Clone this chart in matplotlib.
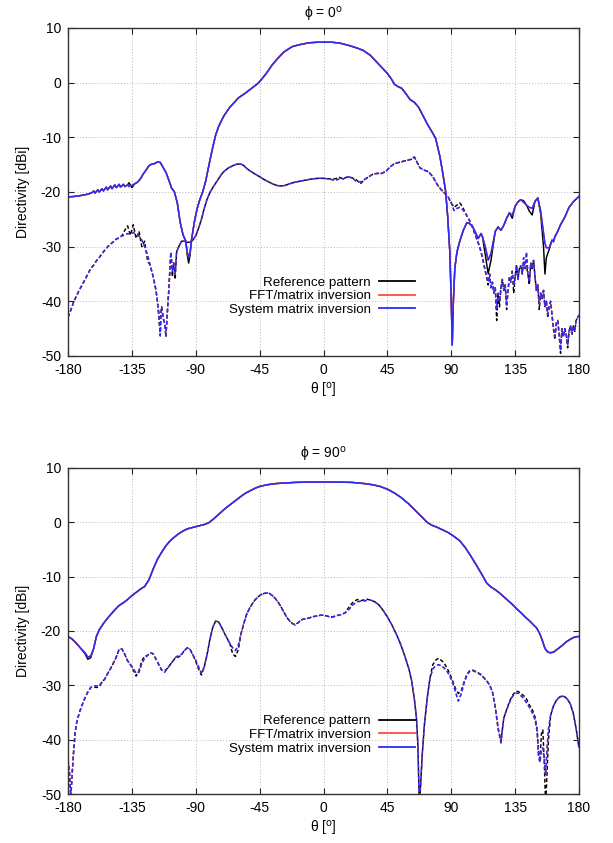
import numpy as np
import matplotlib
matplotlib.use('Agg')
import matplotlib.pyplot as plt
from matplotlib.lines import Line2D

plt.rcParams['font.family'] = ['Liberation Sans', 'DejaVu Sans']
plt.rcParams['axes.unicode_minus'] = False

# ---------------------------------------------------------------
# data (theta in deg, directivity in dBi)
# REF = reference pattern (black), REC = FFT / system matrix
# reconstructions (red / blue, overlap within a pixel)
# ---------------------------------------------------------------

# phi = 0 deg, co-polar (solid)
TOP_CO_THETA = [-180, -175, -170, -166, -163, -162, -161, -159, -158, -156, -155, -153, -152, -150,
                -149, -147, -146, -144, -143, -141, -140, -138, -137, -135, -133, -131, -129, -127,
                -125, -123, -121, -119, -117, -115, -113, -111, -109, -107, -105, -103, -101, -99,
                -97, -96, -95, -94, -93, -91, -89, -87, -85, -83, -80, -78, -76, -74, -72, -70,
                -66, -60, -55, -50, -46, -44, -40, -36, -32, -28, -22, -16, -10, -4, 0, 6, 12, 18,
                24, 28, 33, 37, 41, 45, 48, 50, 53, 55, 58, 61, 64, 67, 70, 73, 76, 79, 82, 84, 86,
                87.5, 89, 90, 90.7, 91.5, 92.5, 94, 96, 98.5, 101, 103, 105, 107, 109, 111, 112,
                114, 116, 118, 120, 121, 123, 125, 127, 129, 131,
                133, 135, 137, 139, 141, 143, 145, 147, 149, 151,
                153, 155, 156, 157, 159, 161, 162, 163, 165, 167,
                170, 173, 176, 178, 180]
TOP_CO_REC = [-20.9, -20.8, -20.6, -20.4, -20.1, -19.8, -20.2, -19.6, -20.0, -19.4, -19.8, -19.1, -19.6, -18.9,
              -19.4, -18.7, -19.2, -18.6, -19.1, -18.6, -19.0, -18.7, -19.0, -18.8, -18.5, -18.2, -17.6, -16.7,
              -16.0, -15.2, -14.9, -14.8, -14.5, -14.6, -15.5, -16.4, -17.8, -19.3, -20.0, -22.0, -25.5, -27.8,
              -29.0, -31.0, -32.0, -31.0, -28.8, -25.5, -23.0, -21.3, -19.9, -18.0, -14.2, -11.8, -9.6, -8.1, -7.0, -6.0,
              -4.5, -2.8, -1.9, -0.9, -0.1, 0.5, 1.8, 3.3, 4.5, 5.6, 6.6, 7.0, 7.3, 7.4, 7.4, 7.4, 7.2, 6.8,
              6.3, 5.9, 5.0, 3.9, 2.8, 1.7, 0.6, -0.3, -0.8, -1.0, -2.0, -3.1, -3.6, -4.5, -6.0, -7.5, -8.8, -10.2, -13.5, -16.5, -19.8,
              -24.5, -31.0, -40.0, -48.0, -40.0, -34.0, -31.0, -29.0, -27.0, -25.6, -25.8, -26.3, -27.4, -28.5, -27.6, -28.2,
              -30.0, -32.5, -31.2, -28.5, -27.2, -26.4, -27.0, -26.1, -24.8, -23.8,
              -24.3, -22.6, -21.8, -21.4, -21.9, -22.4, -22.8, -23.0, -21.7, -21.1,
              -23.5, -27.5, -29.4, -30.2, -30.2, -28.8, -29.1, -28.2, -27.2, -26.0,
              -24.6, -22.8, -21.8, -21.3, -20.8]
TOP_CO_REF = [-20.9, -20.8, -20.6, -20.4, -20.1, -19.8, -20.2, -19.6, -20.0, -19.4, -19.8, -19.1, -19.6, -18.9,
              -19.4, -18.7, -19.2, -18.6, -19.1, -18.6, -19.0, -18.7, -18.3, -19.2, -18.5, -18.2, -17.6, -16.7,
              -16.0, -15.2, -14.9, -14.8, -14.5, -14.6, -15.5, -16.4, -17.8, -19.3, -20.0, -22.0, -25.5, -27.8,
              -29.0, -31.5, -33.0, -31.5, -28.8, -25.5, -23.0, -21.3, -19.9, -18.0, -14.2, -11.8, -9.6, -8.1, -7.0, -6.0,
              -4.5, -2.8, -1.9, -0.9, -0.1, 0.5, 1.8, 3.3, 4.5, 5.6, 6.6, 7.0, 7.3, 7.4, 7.4, 7.4, 7.2, 6.8,
              6.3, 5.9, 5.0, 3.9, 2.8, 1.7, 0.6, -0.3, -0.8, -1.0, -2.0, -3.1, -3.6, -4.5, -6.0, -7.5, -8.8, -10.2, -13.5, -16.5, -19.8,
              -24.5, -31.0, -40.0, -48.0, -40.0, -34.0, -31.0, -29.0, -27.0, -25.6, -25.8, -26.3, -27.4, -28.5, -27.6, -28.2,
              -31.5, -34.9, -32.5, -29.0, -27.2, -26.4, -27.0, -26.1, -24.8, -23.8,
              -24.8, -22.6, -21.8, -21.4, -21.6, -22.4, -23.5, -24.2, -21.7, -21.1,
              -24.0, -30.0, -35.0, -32.0, -30.5, -28.8, -29.1, -28.2, -27.2, -26.0,
              -24.6, -22.8, -21.8, -21.3, -20.8]

# phi = 0 deg, cross-polar (dashed)
TOP_X_THETA = [-180, -178, -176, -174, -172, -170, -168, -166, -164, -162, -160, -158, -156, -154, -152, -150,
               -148, -146, -144, -142, -140, -138, -136, -134, -132, -130, -128, -126, -124, -122, -120, -118,
               -117, -116, -115, -114.5, -114, -113, -112, -111, -110, -109, -108, -107.5, -106.5, -105.5, -104.5,
               -103.5, -102, -100, -98, -96, -94, -92, -90, -88, -86, -84, -82, -80, -78, -76, -74, -72, -70, -67,
               -64, -61, -58, -56, -54, -52, -49, -47, -45, -42, -39, -36, -33, -30, -27, -24, -20, -16, -12, -8, -4,
               0, 4, 8, 11, 14, 17, 20, 23, 26, 29, 32, 35, 38, 41, 44, 47, 50, 53, 56, 59, 62, 64, 66, 68, 71, 74,
               77, 80, 83, 86, 88, 90, 92, 94, 96, 98, 100, 102, 104, 106, 108, 110, 112, 114, 116, 117, 118, 119,
               120, 121, 122, 123, 124, 125, 126, 127, 128, 129, 130, 131, 132, 133, 134, 135, 136, 137, 138, 139,
               140, 141, 142, 143, 144, 145, 146, 147, 148, 149, 150, 151, 152, 153, 154, 155, 156, 157, 158, 159,
               160, 161, 162, 163, 164, 165, 166, 167, 168, 169, 170, 171, 172, 173, 174, 175, 176, 177, 178, 180]
TOP_X_REC = [-42.9, -41.6, -40.1, -39.0, -37.9, -37.0, -36.0, -35.0, -34.0, -33.4, -32.6, -32.0, -31.3, -30.6, -30.0, -29.5,
             -29.1, -28.6, -28.4, -28.0, -27.9, -27.6, -27.7, -27.4, -27.8, -28.0, -28.8, -30.0, -31.5, -33.5, -35.5, -38.0,
             -40.0, -42.0, -46.3, -42.0, -41.0, -43.0, -44.0, -46.0, -42.0, -38.0, -33.0, -31.0, -34.5, -33.0, -35.0,
             -31.0, -30.0, -29.0, -29.0, -29.2, -29.2, -28.8, -28.0, -26.6, -25.0, -23.0, -21.3, -20.1, -19.2, -18.4, -17.6, -16.8, -16.2, -15.6,
             -15.2, -14.9, -14.9, -15.2, -15.7, -16.1, -16.6, -16.9, -17.2, -17.7, -18.1, -18.5, -18.8, -18.9, -18.8, -18.5, -18.2, -18.0, -17.8, -17.6, -17.5,
             -17.5, -17.6, -17.9, -17.6, -17.6, -17.2, -17.4, -18.0, -18.2, -17.7, -17.2, -16.7, -16.6, -16.6, -16.2, -15.4, -14.8, -14.6, -14.4, -14.2, -14.0, -13.6, -14.6, -15.6, -16.0, -16.3,
             -17.2, -18.6, -19.6, -20.4, -21.0, -22.0, -23.4, -23.0, -22.8, -23.2, -23.9, -24.8, -25.8, -27.2, -28.6, -30.0, -32.0, -34.5, -36.5, -35.0, -37.5, -36.5,
             -38.5, -37.5, -41.5, -38.5, -40.0, -37.5, -36.0, -38.0, -37.0, -40.5, -38.0, -35.5, -36.5, -34.5, -37.0, -35.5, -33.5, -36.0, -34.0, -33.5,
             -35.0, -32.0, -34.0, -31.0, -35.0, -36.5, -33.0, -34.0, -32.5, -35.5, -38.0, -37.0, -40.5, -38.5, -39.5, -38.0, -41.0, -40.0, -42.5, -41.0,
             -40.0, -42.5, -45.0, -46.5, -44.0, -43.5, -46.0, -49.0, -45.0, -46.5, -45.0, -46.0, -48.0, -45.5, -44.5, -46.0, -44.5, -45.5, -43.5, -42.5]
TOP_X_REF = [-42.9, -41.6, -40.1, -39.0, -37.9, -37.0, -36.0, -35.0, -34.0, -33.4, -32.6, -32.0, -31.3, -30.6, -30.0, -29.5,
             -29.1, -28.6, -28.4, -28.0, -27.0, -26.2, -27.9, -26.0, -28.5, -27.2, -30.0, -29.0, -32.5, -33.5, -35.5, -38.0,
             -40.0, -43.0, -46.3, -42.0, -41.0, -43.0, -44.0, -46.5, -42.0, -38.0, -33.0, -31.0, -35.5, -33.0, -36.0,
             -31.0, -30.0, -29.0, -29.0, -29.2, -29.2, -28.8, -28.0, -26.6, -25.0, -23.0, -21.3, -20.1, -19.2, -18.4, -17.6, -16.8, -16.2, -15.6,
             -15.2, -14.9, -14.9, -15.2, -15.7, -16.1, -16.6, -16.9, -17.2, -17.7, -18.1, -18.5, -18.8, -18.9, -18.8, -18.5, -18.2, -18.0, -17.8, -17.6, -17.5,
             -17.5, -17.6, -17.6, -17.3, -17.6, -17.2, -17.4, -17.7, -18.5, -17.7, -17.2, -16.7, -16.6, -16.6, -16.2, -15.4, -14.8, -14.6, -14.4, -14.2, -14.0, -13.6, -14.6, -15.6, -16.0, -16.3,
             -17.2, -18.6, -19.6, -20.4, -21.0, -22.0, -22.8, -22.4, -22.0, -22.7, -23.9, -24.8, -25.8, -27.2, -28.6, -30.0, -32.0, -34.5, -37.0, -35.0, -37.5, -36.5,
             -38.5, -37.5, -43.5, -38.5, -41.0, -37.5, -36.0, -38.0, -37.0, -41.5, -38.0, -35.5, -36.5, -34.5, -38.5, -35.5, -33.5, -36.0, -34.0, -33.5,
             -35.0, -33.0, -34.0, -33.5, -35.0, -37.0, -33.0, -34.0, -32.5, -35.5, -38.0, -37.0, -41.5, -38.5, -39.5, -38.0, -41.0, -40.0, -43.0, -41.0,
             -40.0, -42.5, -45.0, -47.0, -44.0, -43.5, -46.0, -49.5, -45.0, -46.5, -45.0, -46.0, -48.5, -45.5, -44.5, -46.0, -44.5, -45.5, -43.5, -42.5]

# phi = 90 deg, co-polar (solid)
BOT_CO_THETA = [-180, -177, -174, -171, -168, -166, -164, -162, -160, -158, -155, -152, -150, -147, -144, -141,
                -138, -135, -132, -129, -126, -123, -120, -117, -114, -111, -108, -105, -102, -99, -96, -93, -90,
                -87, -84, -81, -78, -75, -72, -69, -66, -63, -60, -57, -54, -51, -48, -45, -40, -35, -30, -20, -10,
                0, 10, 20, 30, 35, 40, 45, 50, 55, 60, 65, 70, 73, 76, 80, 84, 88, 92, 96, 100, 104, 108, 112, 115,
                118, 121, 124, 127, 130, 133, 136, 139, 142, 145, 148, 150, 152, 154, 156, 158, 160, 162, 165, 168,
                171, 174, 177, 180]
BOT_CO_REC = [-21.0, -21.5, -22.3, -23.2, -24.0, -24.8, -24.6, -23.3, -21.0, -19.8, -18.6, -17.6, -17.0, -16.1, -15.3, -14.8,
              -14.2, -13.5, -12.9, -12.3, -11.8, -10.6, -8.6, -6.8, -5.5, -4.3, -3.4, -2.7, -2.1, -1.6, -1.2, -1.0, -0.8,
              -0.6, -0.4, -0.1, 0.5, 1.2, 1.9, 2.6, 3.2, 3.8, 4.4, 5.0, 5.5, 5.9, 6.3, 6.6, 6.9, 7.1, 7.2, 7.35, 7.4,
              7.4, 7.4, 7.35, 7.1, 6.9, 6.6, 6.1, 5.4, 4.5, 3.4, 2.1, 0.8, 0.0, -0.5, -0.9, -1.4, -1.9, -2.6, -3.4, -4.7, -6.3, -8.0, -9.8, -11.2,
              -11.9, -12.4, -13.0, -13.7, -14.4, -15.1, -15.9, -16.6, -17.4, -18.1, -18.9, -19.4, -20.3, -21.6, -23.2, -23.9, -24.0, -23.9, -23.3, -22.7,
              -22.0, -21.5, -21.1, -21.0]
BOT_CO_REF = [-21.0, -21.5, -22.3, -23.2, -24.2, -25.2, -24.9, -23.3, -21.0, -19.8, -18.6, -17.6, -17.0, -16.1, -15.3, -14.8,
              -14.2, -13.5, -12.9, -12.3, -11.8, -10.6, -8.6, -6.8, -5.5, -4.3, -3.4, -2.7, -2.1, -1.6, -1.2, -1.0, -0.8,
              -0.6, -0.4, -0.1, 0.5, 1.2, 1.9, 2.6, 3.2, 3.8, 4.4, 5.0, 5.5, 5.9, 6.3, 6.6, 6.9, 7.1, 7.2, 7.35, 7.4,
              7.4, 7.4, 7.35, 7.1, 6.9, 6.6, 6.1, 5.4, 4.5, 3.4, 2.1, 0.8, 0.0, -0.5, -0.9, -1.4, -1.9, -2.6, -3.4, -4.7, -6.3, -8.0, -9.8, -11.2,
              -11.9, -12.4, -13.0, -13.7, -14.4, -15.1, -15.9, -16.6, -17.4, -18.1, -18.9, -19.4, -20.3, -21.6, -23.2, -23.9, -24.0, -23.9, -23.3, -22.7,
              -22.0, -21.5, -21.1, -21.0]

# phi = 90 deg, cross-polar (dashed)
BOT_X_THETA = [-180, -179, -178, -177, -176, -175, -174, -172, -170, -168, -166, -164, -162, -160, -158, -156,
               -154, -152, -150, -148, -146, -144, -142, -140, -138, -136, -134, -132, -130, -128, -126, -124,
               -122, -120, -118, -116, -114, -112, -110, -108, -106, -104, -102, -100, -98, -96, -94, -92, -90,
               -88, -86, -84, -82, -80, -78, -76, -74, -72, -70, -68, -66, -64, -62, -60, -58, -56, -54, -52, -50,
               -48, -46, -44, -42, -40, -38, -36, -34, -32, -30, -28, -26, -24, -22, -20, -18, -16, -14, -12, -10,
               -8, -6, -4, -2, 0, 3, 6, 9, 12, 15, 18, 21, 24, 27, 30, 33, 36, 39, 42, 45, 48, 51, 54, 57, 60, 62,
               64, 65.5, 66.5, 67.5, 68.5, 69.5, 71, 73, 75, 77, 79, 81, 83, 85, 87, 89, 91, 93, 95, 97, 99, 101,
               103, 105, 107, 109, 111, 113, 115, 117, 119, 121, 123, 125, 127, 129, 131, 133, 135, 137, 139, 141,
               143, 145, 147, 149, 150.5, 151.5, 152.5, 153.5, 154.5, 155.5, 156.5, 157.5, 158.5, 160, 162, 164,
               166, 168, 170, 172, 174, 176, 178, 180]
BOT_X_REC = [-43.7, -46.0, -50.5, -46.0, -42.0, -38.8, -37.0, -35.0, -33.6, -32.3, -31.2, -30.4, -30.1, -30.1, -30.0, -29.4,
             -28.8, -27.8, -26.9, -25.9, -24.8, -23.4, -23.3, -24.3, -25.5, -26.2, -26.9, -27.8, -27.6, -26.0, -25.0, -24.5,
             -24.0, -24.2, -25.2, -26.2, -27.2, -27.6, -26.9, -26.2, -25.5, -24.8, -24.5, -24.3, -23.6, -23.1, -23.4, -24.4, -25.4,
             -26.6, -27.7, -26.6, -24.3, -21.5, -19.3, -18.2, -18.3, -19.2, -20.3, -21.3, -22.3, -23.1, -23.6, -22.6, -20.4, -18.5, -16.8, -15.8, -14.9,
             -14.2, -13.7, -13.3, -13.1, -13.0, -13.1, -13.5, -14.0, -14.7, -15.5, -16.5, -17.4, -18.1, -18.6, -18.9, -18.5, -18.0, -17.8, -17.8, -17.6,
             -17.4, -17.3, -17.2, -17.1, -17.1, -17.3, -17.5, -17.2, -17.0, -16.7, -16.0, -15.1, -14.6, -14.5, -14.4, -14.3, -14.6, -15.2, -16.2, -17.4, -18.8, -20.4, -22.2, -24.4, -26.8, -29.0,
             -32.5, -36.0, -41.0, -52.0, -48.0, -43.0, -37.5, -32.5, -28.7, -27.0, -26.4, -26.2, -26.4, -26.8, -27.4, -28.3, -29.5, -31.2, -32.9, -31.6, -29.6, -28.2,
             -27.4, -27.3, -27.5, -27.8, -28.1, -28.6, -29.2, -29.9, -31.2, -34.0, -38.0, -40.6, -36.0, -34.5, -33.2, -32.1, -31.5, -31.4, -31.9, -32.4,
             -33.2, -34.0, -35.0, -36.3, -38.5, -43.0, -44.2, -42.0, -41.5, -43.5, -46.5, -41.5, -38.0, -35.5, -33.8, -32.8,
             -32.2, -32.0, -32.1, -32.6, -33.5, -35.2, -38.0, -41.5]
BOT_X_REF = [-43.7, -46.0, -50.5, -46.0, -42.0, -38.8, -37.0, -35.0, -33.6, -32.3, -31.2, -30.4, -30.3, -30.4, -30.3, -29.4,
             -28.8, -27.8, -26.9, -25.9, -24.8, -23.4, -23.3, -24.3, -25.5, -26.2, -27.2, -28.3, -27.3, -25.5, -24.6, -24.5,
             -24.0, -24.2, -25.2, -26.2, -27.2, -27.3, -26.9, -26.2, -25.5, -24.8, -24.8, -24.3, -23.6, -23.1, -23.4, -24.4, -25.6,
             -27.0, -28.1, -26.6, -24.3, -21.5, -19.3, -18.2, -18.3, -19.2, -20.3, -21.3, -22.3, -24.2, -24.7, -23.4, -20.4, -18.5, -16.8, -15.8, -14.9,
             -14.2, -13.7, -13.3, -13.1, -13.0, -13.1, -13.5, -14.0, -14.7, -15.5, -16.5, -17.4, -18.1, -18.6, -18.8, -18.5, -18.0, -17.8, -17.7, -17.6,
             -17.4, -17.3, -17.2, -17.1, -17.1, -17.3, -17.4, -17.2, -17.0, -16.7, -15.6, -14.6, -14.2, -14.4, -14.1, -14.3, -14.6, -15.2, -16.2, -17.4, -18.8, -20.4, -22.2, -24.4, -26.8, -29.0,
             -32.5, -36.0, -41.0, -52.0, -48.0, -43.0, -37.5, -32.5, -28.7, -26.2, -25.4, -25.0, -25.4, -25.9, -26.8, -27.9, -29.2, -30.6, -31.5, -31.0, -29.4, -28.0,
             -27.3, -27.2, -27.4, -27.7, -28.0, -28.6, -29.2, -29.9, -31.2, -34.0, -37.8, -40.3, -36.0, -34.5, -33.0, -31.9, -31.2, -31.1, -31.5, -31.9,
             -32.5, -33.6, -34.4, -35.8, -38.0, -42.5, -43.5, -39.0, -38.2, -44.0, -52.0, -46.0, -40.0, -35.5, -33.8, -32.8,
             -32.2, -32.0, -32.1, -32.6, -33.5, -35.2, -38.0, -41.5]

PANEL_TITLES = ['\u03d5 = 0$^{\\mathrm{o}}$', '\u03d5 = 90$^{\\mathrm{o}}$']
LEGEND_LABELS = ['Reference pattern', 'FFT/matrix inversion', 'System matrix inversion']
X_TICKS = [-180, -135, -90, -45, 0, 45, 90, 135, 180]
Y_TICKS = [-50, -40, -30, -20, -10, 0, 10]

C_REF = '#000000'
C_FFT = '#ff4a4a'
C_SYS = '#2a2aff'
DASH = (0, (2.6, 1.6))
LW = 1.05

W, H = 613, 843
fig = plt.figure(figsize=(W / 100, H / 100), dpi=100)
ax_top = fig.add_axes([68 / W, 1 - 356 / H, 511 / W, 328 / H])
ax_bot = fig.add_axes([68 / W, 1 - 794 / H, 511 / W, 326 / H])

panels = [
    (ax_top, TOP_CO_THETA, TOP_CO_REF, TOP_CO_REC, TOP_X_THETA, TOP_X_REF, TOP_X_REC),
    (ax_bot, BOT_CO_THETA, BOT_CO_REF, BOT_CO_REC, BOT_X_THETA, BOT_X_REF, BOT_X_REC),
]

for k, (ax, co_t, co_ref, co_rec, x_t, x_ref, x_rec) in enumerate(panels):
    assert len(co_t) == len(co_ref) == len(co_rec)
    assert len(x_t) == len(x_ref) == len(x_rec)

    # reference first, reconstructions drawn over it
    for col, co, xp in [(C_REF, co_ref, x_ref), (C_FFT, co_rec, x_rec), (C_SYS, co_rec, x_rec)]:
        ax.plot(x_t, xp, color=col, lw=LW, linestyle=DASH)
        ax.plot(co_t, co, color=col, lw=LW)

    ax.set_xlim(-180, 180)
    ax.set_ylim(-50, 10)
    ax.set_xticks(X_TICKS)
    ax.set_yticks(Y_TICKS)
    ax.tick_params(direction='in', length=4, width=0.8, top=True, right=True,
                   labelsize=10, pad=5, colors='#222222', labelcolor='black')
    ax.grid(True, color='#b8b8b8', linestyle=(0, (1, 2)), linewidth=0.7)
    for sp in ax.spines.values():
        sp.set_linewidth(1.0)
        sp.set_color('#333333')

    ax.set_title(PANEL_TITLES[k], fontsize=10, pad=7)
    ax.set_ylabel('Directivity [dBi]', fontsize=10, labelpad=8)
    ax.set_xlabel('\u03b8 [$^{\\mathrm{o}}$]', fontsize=10, labelpad=3)

    handles = [Line2D([], [], color=c, lw=1.3) for c in (C_REF, C_FFT, C_SYS)]
    ax.legend(handles, LEGEND_LABELS, loc='center right', bbox_to_anchor=(0.679, 0.182),
              frameon=False, markerfirst=False, fontsize=9.6, handlelength=2.7,
              handletextpad=0.6, labelspacing=0.1, borderpad=0, borderaxespad=0)

fig.savefig('out.png', dpi=100)
